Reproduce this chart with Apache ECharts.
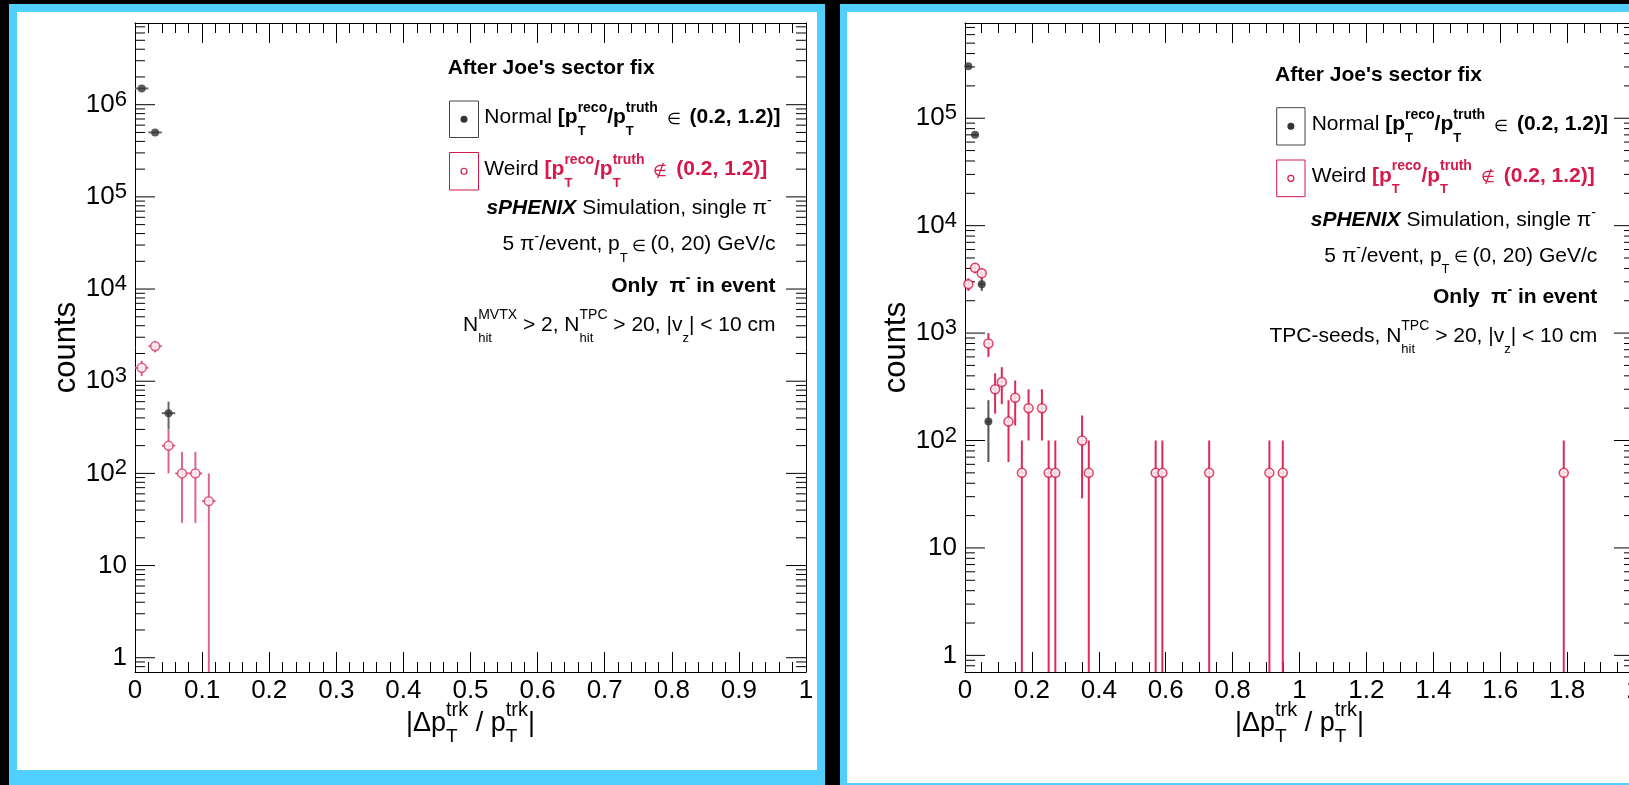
<!DOCTYPE html>
<html>
<head>
<meta charset="utf-8">
<style>
html, body { margin: 0; padding: 0; background: #000; }
#chart { width: 1629px; height: 785px; }
</style>
<script src="https://cdn.jsdelivr.net/npm/echarts@6/dist/echarts.min.js"></script>
</head>
<body>
<div id="chart"></div>
<script>
// ---- left pad: N_hit^MVTX > 2 selection, |dpT/pT| in [0, 1]
var leftNormalX   = [0.01, 0.03, 0.05];
var leftNormalY   = [1.5e6, 5.0e5, 450];
var leftNormalErr = [8700, 5000, 150];
var leftWeirdX    = [0.01, 0.03, 0.05, 0.07, 0.09, 0.11];
var leftWeirdY    = [1400, 2400, 200, 100, 100, 50];
var leftWeirdErr  = [265, 345, 100, 71, 71, 50];

// ---- right pad: TPC-seeds selection, |dpT/pT| in [0, 2]
var rightNormalX   = [0.01, 0.03, 0.05, 0.07];
var rightNormalY   = [3.05e5, 7.0e4, 2850, 150];
var rightNormalErr = [3900, 1870, 380, 87];
var rightWeirdX    = [0.01, 0.03, 0.05, 0.07, 0.09, 0.11, 0.13, 0.15, 0.17, 0.19, 0.23, 0.25, 0.27, 0.35, 0.37, 0.57, 0.59, 0.73, 0.91, 0.95, 1.79];
var rightWeirdY    = [2850, 4050, 3600, 800, 300, 350, 150, 250, 50, 200, 200, 50, 50, 100, 50, 50, 50, 50, 50, 50, 50];
var rightWeirdErr  = [380, 450, 425, 200, 122, 132, 87, 112, 50, 100, 100, 50, 50, 71, 50, 50, 50, 50, 50, 50, 50];

// axis ranges and decade ticks
var leftXMax = 1, rightXMax = 2;
var yMin = 0.7;
var leftYMax = 7.7e6, rightYMax = 7.7e5;
var leftDecades  = [1, 10, 100, 1e3, 1e4, 1e5, 1e6];
var rightDecades = [1, 10, 100, 1e3, 1e4, 1e5];

var FONT = '"Liberation Sans", Arial, Helvetica, sans-serif';
var RED = '#d6184a';
var CYAN = '#50d0ff';

var chart = echarts.init(document.getElementById('chart'));

function zip3(a, b, c) {
	var out = [];
	for (var i = 0; i < a.length; i++) out.push([a[i], b[i], c[i]]);
	return out;
}
function zip2(a, b) {
	var out = [];
	for (var i = 0; i < a.length; i++) out.push([a[i], b[i]]);
	return out;
}
// ROOT style log ticks: long at decades, short at 2..9 x 10^n
function yTicks(decades, hi) {
	var out = [];
	decades.forEach(function (d) { out.push([0, d, 20]); });
	for (var e = -1; e <= 7; e++) {
		for (var m = 2; m <= 9; m++) {
			var v = m * Math.pow(10, e);
			if (v > yMin * 1.01 && v < hi) out.push([0, v, 10]);
		}
	}
	return out;
}

function logLabel(v) {
	var l = Math.log10(v), e = Math.round(l);
	if (Math.abs(l - e) > 1e-6) return '';
	if (e === 0) return '{b|1}';
	if (e === 1) return '{b|10}';
	return '{b|10}{e|' + e + '}';
}

// ---- text runs with sub/superscripts (measured with canvas)
var mctx = document.createElement('canvas').getContext('2d');
function fontOf(p) {
	return (p.i ? 'italic ' : '') + (p.b ? 'bold ' : '') + p.s + 'px ' + FONT;
}
function widthOf(p) {
	mctx.font = fontOf(p);
	return mctx.measureText(p.t).width;
}
function T(t, o) {
	o = o || {};
	return {t: t, s: o.s || 21, b: o.b, i: o.i, c: o.c || '#000', dy: o.dy || 0};
}
function ST(sup, sub, o) {
	o = o || {};
	var parts = [];
	if (sup != null) parts.push({t: sup, s: o.s || 14, b: o.b, c: o.c || '#000', dy: o.du || -12});
	if (sub != null) parts.push({t: sub, s: o.ss || 13, b: o.b, c: o.c || '#000', dy: o.dd || 11});
	return {stack: parts};
}
function textRun(pieces, x, base, align) {
	var total = 0, widths = [];
	pieces.forEach(function (p) {
		var w = 0;
		if (p.stack) p.stack.forEach(function (q) { w = Math.max(w, widthOf(q)); });
		else w = widthOf(p);
		widths.push(w);
		total += w;
	});
	var cx = align === 'right' ? x - total : (align === 'center' ? x - total / 2 : x);
	var els = [];
	pieces.forEach(function (p, k) {
		var list = p.stack ? p.stack : [p];
		list.forEach(function (q) {
			els.push({
				type: 'text', silent: true, z: 20,
				style: {
					text: q.t, x: cx, y: base + q.dy - 0.35 * q.s,
					font: fontOf(q), fill: q.c, align: 'left', verticalAlign: 'middle'
				}
			});
		});
		cx += widths[k];
	});
	return els;
}

function legendBlock(o) {
	var red = {b: 1, c: RED};
	var els = [];
	els = els.concat(textRun([T("After Joe's sector fix", {b: 1})], o.afterX, o.afterY, 'left'));
	els.push({type: 'rect', z: 20, silent: true, shape: o.box1, style: {fill: '#fff', stroke: '#444', lineWidth: 1}});
	els.push({type: 'circle', z: 21, silent: true, shape: {cx: o.box1.x + o.box1.width / 2, cy: o.box1.y + o.box1.height / 2, r: 3.5}, style: {fill: '#333'}});
	els.push({type: 'rect', z: 20, silent: true, shape: o.box2, style: {fill: '#fff', stroke: RED, lineWidth: 1}});
	els.push({type: 'circle', z: 21, silent: true, shape: {cx: o.box2.x + o.box2.width / 2, cy: o.box2.y + o.box2.height / 2, r: 3}, style: {fill: '#fff', stroke: RED, lineWidth: 1.2}});
	els = els.concat(textRun([T('Normal '), T('[p', {b: 1}), ST('reco', 'T', {b: 1}), T('/p', {b: 1}), ST('truth', 'T', {b: 1}),
		T('  \u2208  ', {s: 16}), T('(0.2, 1.2)]', {b: 1})], o.entryX, o.normalY, 'left'));
	els = els.concat(textRun([T('Weird '), T('[p', red), ST('reco', 'T', red), T('/p', red), ST('truth', 'T', red),
		T('  \u2209  ', {s: 16, c: RED}), T('(0.2, 1.2)]', red)], o.entryX, o.weirdY, 'left'));
	els = els.concat(textRun([T('sPHENIX', {b: 1, i: 1}), T(' Simulation, single \u03c0'), ST('-', null, {du: -10})], o.right1, o.simY, 'right'));
	els = els.concat(textRun([T('5 \u03c0'), ST('-', null, {du: -10}), T('/event, p'), ST(null, 'T'), T(' \u2208 ', {s: 16}), T('(0, 20) GeV/c')], o.right2, o.evY, 'right'));
	els = els.concat(textRun([T('Only  \u03c0', {b: 1}), ST('-', null, {b: 1, du: -10}), T(' in event', {b: 1})], o.right2, o.onlyY, 'right'));
	els = els.concat(textRun(o.cutLine, o.right2, o.cutY, 'right'));
	return els;
}

function xTitle(cx) {
	var so = {s: 20, ss: 19, du: -16, dd: 10};
	return textRun([T('|\u0394p', {s: 27}), ST('trk', 'T', so), T(' / p', {s: 27}), ST('trk', 'T', so), T('|', {s: 27})], cx, 733, 'center');
}

function errRender(halfW, color) {
	return function (params, api) {
		var x = api.value(0), y = api.value(1), e = api.value(2);
		var c = api.coord([x, y]);
		var hi = api.coord([x, y + e]);
		var lo = api.coord([x, Math.max(y - e, yMin)]);
		var l = api.coord([Math.max(x - halfW, 0), y]);
		var r = api.coord([x + halfW, y]);
		return {
			type: 'group', children: [
				{type: 'line', shape: {x1: c[0], y1: hi[1], x2: c[0], y2: lo[1]}, style: {stroke: color, lineWidth: 2}},
				{type: 'line', shape: {x1: l[0], y1: c[1], x2: r[0], y2: c[1]}, style: {stroke: color, lineWidth: 2}}
			]
		};
	};
}
// y ticks on the left and the mirrored right frame edge, pointing inside
function tickRender(xMax) {
	return function (params, api) {
		var v = api.value(1), len = api.value(2);
		var a = api.coord([0, v]), b = api.coord([xMax, v]);
		return {
			type: 'group', children: [
				{type: 'line', shape: {x1: a[0], y1: a[1], x2: a[0] + len, y2: a[1]}, style: {stroke: '#000', lineWidth: 1}},
				{type: 'line', shape: {x1: b[0] - len, y1: b[1], x2: b[0], y2: b[1]}, style: {stroke: '#000', lineWidth: 1}}
			]
		};
	};
}

function xAxisDef(grid, max, interval, minorSplit, top) {
	return {
		type: 'value', gridIndex: grid, min: 0, max: max, interval: interval,
		position: top ? 'top' : 'bottom',
		axisLine: {show: true, onZero: false, lineStyle: {color: '#000', width: 1}},
		axisTick: {show: true, inside: true, length: 20, lineStyle: {color: '#000'}},
		minorTick: {show: true, splitNumber: minorSplit, length: 10, lineStyle: {color: '#000'}},
		splitLine: {show: false},
		axisLabel: {show: !top, color: '#000', fontSize: 26, fontFamily: FONT, margin: 6}
	};
}
function yAxisDef(grid, max, right) {
	return {
		type: 'log', gridIndex: grid, min: yMin, max: max, logBase: 10,
		position: right ? 'right' : 'left',
		axisLine: {show: true, onZero: false, lineStyle: {color: '#000', width: 1}},
		axisTick: {show: false},
		splitLine: {show: false},
		name: right ? '' : 'counts', nameLocation: 'middle', nameGap: 47,
		nameTextStyle: {color: '#000', fontSize: 31, fontFamily: FONT},
		axisLabel: {
			show: !right, margin: 8, color: '#000', formatter: logLabel,
			rich: {
				b: {fontSize: 26, fontFamily: FONT, color: '#000'},
				e: {fontSize: 22, fontFamily: FONT, color: '#000', padding: [0, 0, 10, 0]}
			}
		}
	};
}

var graphics = [
	// pads
	{type: 'rect', z: -10, silent: true, shape: {x: 9, y: 4, width: 816, height: 800}, style: {fill: CYAN}},
	{type: 'rect', z: -9, silent: true, shape: {x: 17, y: 12, width: 800, height: 758}, style: {fill: '#fff'}},
	{type: 'rect', z: -10, silent: true, shape: {x: 840, y: 4, width: 820, height: 800}, style: {fill: CYAN}},
	{type: 'rect', z: -9, silent: true, shape: {x: 847, y: 12, width: 800, height: 771}, style: {fill: '#fff'}}
];
graphics = graphics.concat(legendBlock({
	afterX: 447.7, afterY: 76,
	box1: {x: 449.5, y: 101, width: 29, height: 36.5},
	box2: {x: 449.5, y: 152.5, width: 29, height: 37.5},
	entryX: 484.3, normalY: 125, weirdY: 176.7,
	right1: 771.7, right2: 775.5, simY: 216, evY: 251.7, onlyY: 293.3, cutY: 332.3,
	cutLine: [T('N'), ST('MVTX', 'hit'), T(' > 2, N'), ST('TPC', 'hit'), T(' > 20, |v'), ST(null, 'z'), T('| < 10 cm')]
}));
graphics = graphics.concat(legendBlock({
	afterX: 1275, afterY: 82.3,
	box1: {x: 1276.7, y: 107.7, width: 28.3, height: 37.3},
	box2: {x: 1276.7, y: 160, width: 28.3, height: 36.7},
	entryX: 1311.7, normalY: 131.7, weirdY: 183.3,
	right1: 1596, right2: 1597.3, simY: 227.7, evY: 263.3, onlyY: 305, cutY: 343.3,
	cutLine: [T('TPC-seeds, N'), ST('TPC', 'hit'), T(' > 20, |v'), ST(null, 'z'), T('| < 10 cm')]
}));
graphics = graphics.concat(xTitle(470.5)).concat(xTitle(1299.5));

var option = {
	backgroundColor: '#000',
	animation: false,
	textStyle: {fontFamily: FONT},
	grid: [
		{left: 135, top: 23, width: 671, height: 649, containLabel: false, outerBoundsMode: 'none'},
		{left: 965, top: 23, width: 669, height: 649, containLabel: false, outerBoundsMode: 'none'}
	],
	xAxis: [
		xAxisDef(0, leftXMax, 0.1, 5, false), xAxisDef(0, leftXMax, 0.1, 5, true),
		xAxisDef(1, rightXMax, 0.2, 4, false), xAxisDef(1, rightXMax, 0.2, 4, true)
	],
	yAxis: [
		yAxisDef(0, leftYMax, false), yAxisDef(0, leftYMax, true),
		yAxisDef(1, rightYMax, false), yAxisDef(1, rightYMax, true)
	],
	graphic: graphics,
	series: [
		{type: 'custom', name: 'ticksL', xAxisIndex: 0, yAxisIndex: 0, silent: true, z: 1,
			renderItem: tickRender(leftXMax), encode: {x: 0, y: 1}, data: yTicks(leftDecades, leftYMax)},
		{type: 'custom', name: 'ticksR', xAxisIndex: 2, yAxisIndex: 2, silent: true, z: 1,
			renderItem: tickRender(rightXMax), encode: {x: 0, y: 1}, data: yTicks(rightDecades, rightYMax)},

		{type: 'custom', name: 'Normal err L', xAxisIndex: 0, yAxisIndex: 0, z: 2,
			renderItem: errRender(0.01, '#666'), encode: {x: 0, y: 1}, data: zip3(leftNormalX, leftNormalY, leftNormalErr)},
		{type: 'custom', name: 'Weird err L', xAxisIndex: 0, yAxisIndex: 0, z: 2,
			renderItem: errRender(0.01, '#e0648a'), encode: {x: 0, y: 1}, data: zip3(leftWeirdX, leftWeirdY, leftWeirdErr)},
		{type: 'scatter', name: 'Normal', xAxisIndex: 0, yAxisIndex: 0, z: 4, symbol: 'circle', symbolSize: 8,
			itemStyle: {color: '#333'}, data: zip2(leftNormalX, leftNormalY)},
		{type: 'scatter', name: 'Weird', xAxisIndex: 0, yAxisIndex: 0, z: 4, symbol: 'circle', symbolSize: 9,
			itemStyle: {color: '#fff', borderColor: '#d83a64', borderWidth: 1.5}, data: zip2(leftWeirdX, leftWeirdY)},

		{type: 'custom', name: 'Normal err R', xAxisIndex: 2, yAxisIndex: 2, z: 2,
			renderItem: errRender(0.01, '#555'), encode: {x: 0, y: 1}, data: zip3(rightNormalX, rightNormalY, rightNormalErr)},
		{type: 'custom', name: 'Weird err R', xAxisIndex: 2, yAxisIndex: 2, z: 2,
			renderItem: errRender(0.01, '#dc2a5a'), encode: {x: 0, y: 1}, data: zip3(rightWeirdX, rightWeirdY, rightWeirdErr)},
		{type: 'scatter', name: 'Weird', xAxisIndex: 2, yAxisIndex: 2, z: 4, symbol: 'circle', symbolSize: 9,
			itemStyle: {color: '#fff', borderColor: RED, borderWidth: 1.5}, data: zip2(rightWeirdX, rightWeirdY)},
		{type: 'scatter', name: 'Normal', xAxisIndex: 2, yAxisIndex: 2, z: 5, symbol: 'circle', symbolSize: 8,
			itemStyle: {color: '#333'}, data: zip2(rightNormalX, rightNormalY)}
	]
};
chart.setOption(option);
</script>
</body>
</html>
